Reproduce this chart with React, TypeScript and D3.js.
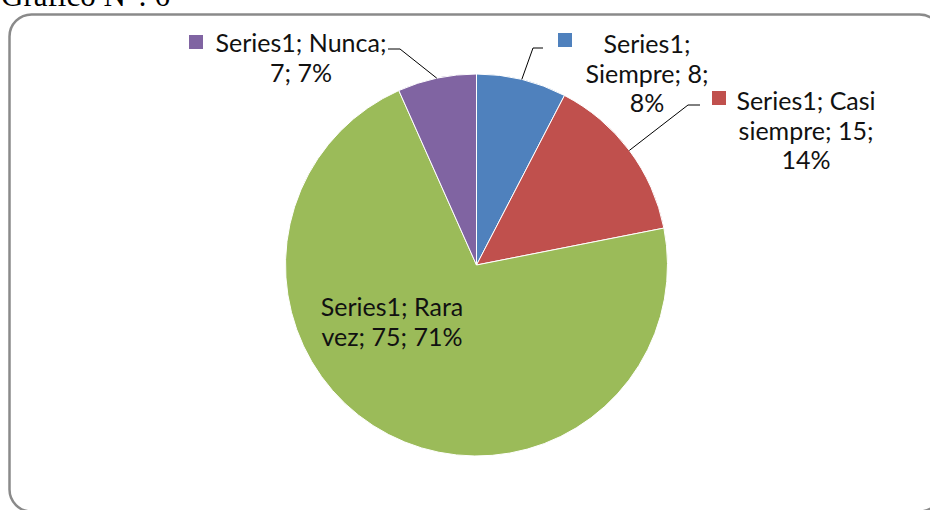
import React from "react";
import * as d3 from "d3";

const categories = ["Siempre", "Casi siempre", "Rara vez", "Nunca"];
const values = [8, 15, 75, 7];
const percents = ["8%", "14%", "71%", "7%"];
const seriesName = "Series1";
const colors = ["#4F81BD", "#C0504D", "#9BBB59", "#8064A2"];
const title = "Gráfico N°: 6";

const W = 930;
const H = 510;
const cx = 476.5;
const cy = 265;
const R = 191;
const FONT = "Lato, 'Open Sans', sans-serif";
const FS = 25;
const LH = 29.5;

// label layout: [line texts], center x, first baseline, legend square, elbow points
const labelLayout = [
  { lines: [`${seriesName};`, `${categories[0]}; ${values[0]};`, percents[0]], x: 647, y: 53, sq: [558, 33], elbow: [[533, 48], [543, 48]] },
  { lines: [`${seriesName}; Casi`, `siempre; ${values[1]};`, percents[1]], x: 806, y: 110, sq: [712, 91], elbow: [[688, 105], [700, 105]] },
  { lines: [`${seriesName}; Rara`, `vez; ${values[2]}; ${percents[2]}`], x: 392, y: 316, sq: null, elbow: null },
  { lines: [`${seriesName}; ${categories[3]};`, `${values[3]}; ${percents[3]}`], x: 301, y: 52, sq: [189, 35], elbow: [[400, 49], [388, 49]] },
];

export default function App() {
  const pie = d3.pie<number>().sort(null).startAngle(0).endAngle(2 * Math.PI);
  const arcs = pie(values);
  const arc = d3.arc<d3.PieArcDatum<number>>().innerRadius(0).outerRadius(R);

  return (
    <svg width={W} height={H} style={{ position: "absolute", left: 0, top: 0, display: "block" }}>
      <rect x={0} y={0} width={W} height={H} fill="#ffffff" />
      <text x={1} y={6} fontFamily="'Liberation Serif', 'Times New Roman', serif" fontSize={31} fill="#000">
        {title}
      </text>
      <rect x={9.5} y={14.5} width={932} height={497} rx={22} ry={22} fill="#fff" stroke="#8a8a8a" strokeWidth={2.5} />
      <g transform={`translate(${cx},${cy})`}>
        {arcs.map((a, i) => (
          <path key={i} d={arc(a) as string} fill={colors[i]} stroke="#ffffff" strokeWidth={1} />
        ))}
      </g>
      {arcs.map((a, i) => {
        const L = labelLayout[i];
        const mid = (a.startAngle + a.endAngle) / 2;
        const ax = cx + R * Math.sin(mid);
        const ay = cy - R * Math.cos(mid);
        return (
          <g key={i}>
            {L.elbow && (
              <polyline
                points={[[ax, ay], ...L.elbow].map((p) => p.join(",")).join(" ")}
                fill="none"
                stroke="#000"
                strokeWidth={1}
              />
            )}
            {L.sq && <rect x={L.sq[0]} y={L.sq[1]} width={14} height={14} fill={colors[i]} />}
            <text fontFamily={FONT} fontSize={FS} fill="#111" textAnchor="middle">
              {L.lines.map((t, j) => (
                <tspan key={j} x={L.x} y={L.y + j * LH}>
                  {t}
                </tspan>
              ))}
            </text>
          </g>
        );
      })}
    </svg>
  );
}
